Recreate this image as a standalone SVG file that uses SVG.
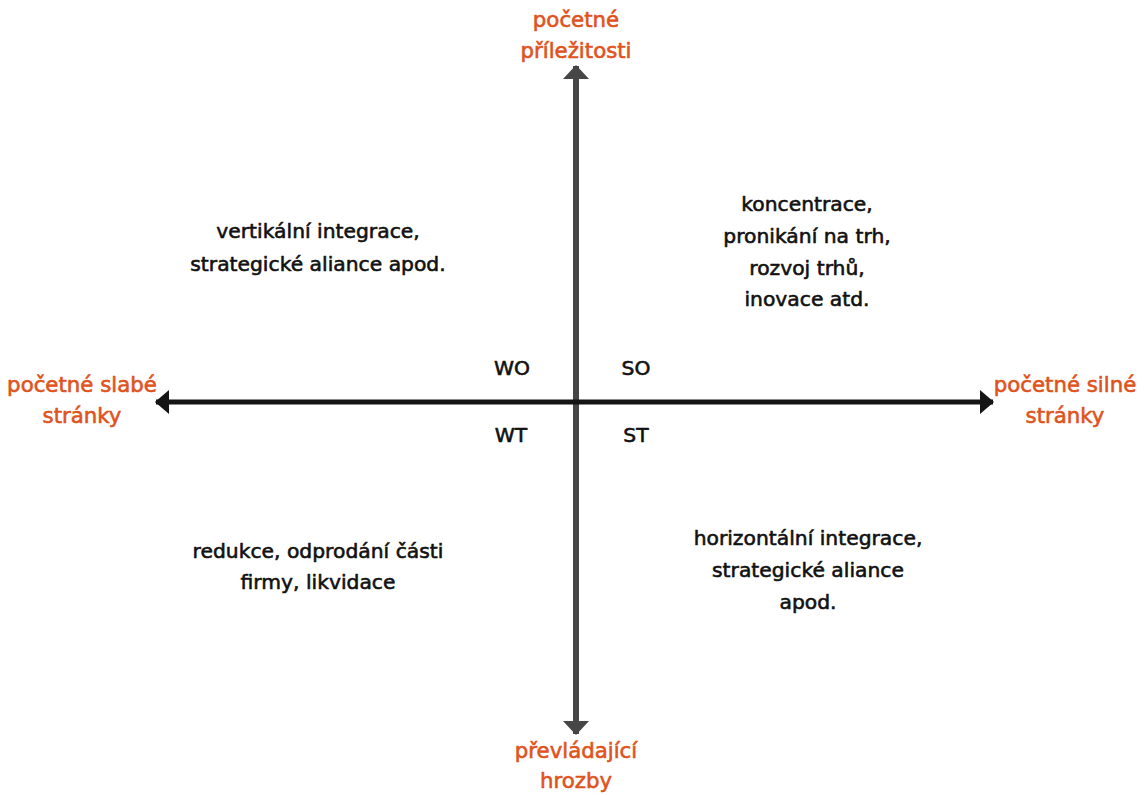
<svg xmlns="http://www.w3.org/2000/svg" width="1148" height="795" viewBox="0 0 1148 795">
<style>
  text { font-family: "DejaVu Sans", Verdana, sans-serif; font-size: 20.3px; text-anchor: middle; stroke-width: 0.6px; stroke-linejoin: round; }
  .axis-label { fill: #E0531D; stroke: #E0531D; font-size: 21.3px; }
  .body { fill: #111111; stroke: #111111; }
  .vaxis { stroke: #464646; stroke-width: 6; fill: none; }
  .haxis { stroke: #151515; stroke-width: 5; fill: none; }
</style>
<defs>
  <marker id="headV" markerUnits="userSpaceOnUse" markerWidth="14" markerHeight="26" refX="13" refY="13" orient="auto" viewBox="0 0 14 26">
    <polygon points="0,0 14,13 0,26" fill="#464646"/>
  </marker>
  <marker id="headH" markerUnits="userSpaceOnUse" markerWidth="14" markerHeight="24" refX="13" refY="12" orient="auto" viewBox="0 0 14 24">
    <polygon points="0,0 14,12 0,24" fill="#151515"/>
  </marker>
</defs>
<rect width="1148" height="795" fill="#ffffff"/>
<g id="connectors">
  <line class="vaxis" x1="576" y1="402" x2="576" y2="66" marker-end="url(#headV)"/>
  <line class="vaxis" x1="576" y1="402" x2="576" y2="734" marker-end="url(#headV)"/>
  <line class="haxis" x1="576" y1="402" x2="156" y2="402" marker-end="url(#headH)"/>
  <line class="haxis" x1="576" y1="402" x2="993" y2="402" marker-end="url(#headH)"/>
</g>
<g id="label-opportunities">
  <text class="axis-label" x="576" y="27">početné</text>
  <text class="axis-label" x="576" y="58">příležitosti</text>
</g>
<g id="label-weaknesses">
  <text class="axis-label" x="82" y="392">početné slabé</text>
  <text class="axis-label" x="82" y="423">stránky</text>
</g>
<g id="label-strengths">
  <text class="axis-label" x="1065" y="392">početné silné</text>
  <text class="axis-label" x="1065" y="423">stránky</text>
</g>
<g id="label-threats">
  <text class="axis-label" x="576" y="758">převládající</text>
  <text class="axis-label" x="576" y="788">hrozby</text>
</g>
<g id="quadrant-WO">
  <text class="body" x="512" y="375">WO</text>
  <text class="body" x="318" y="238">vertikální integrace,</text>
  <text class="body" x="318" y="271">strategické aliance apod.</text>
</g>
<g id="quadrant-SO">
  <text class="body" x="636" y="375">SO</text>
  <text class="body" x="807" y="211">koncentrace,</text>
  <text class="body" x="807" y="243">pronikání na trh,</text>
  <text class="body" x="807" y="275">rozvoj trhů,</text>
  <text class="body" x="807" y="306">inovace atd.</text>
</g>
<g id="quadrant-WT">
  <text class="body" x="511" y="442">WT</text>
  <text class="body" x="318" y="558">redukce, odprodání části</text>
  <text class="body" x="318" y="589">firmy, likvidace</text>
</g>
<g id="quadrant-ST">
  <text class="body" x="636" y="442">ST</text>
  <text class="body" x="808" y="545">horizontální integrace,</text>
  <text class="body" x="808" y="577">strategické aliance</text>
  <text class="body" x="808" y="609">apod.</text>
</g>
</svg>
